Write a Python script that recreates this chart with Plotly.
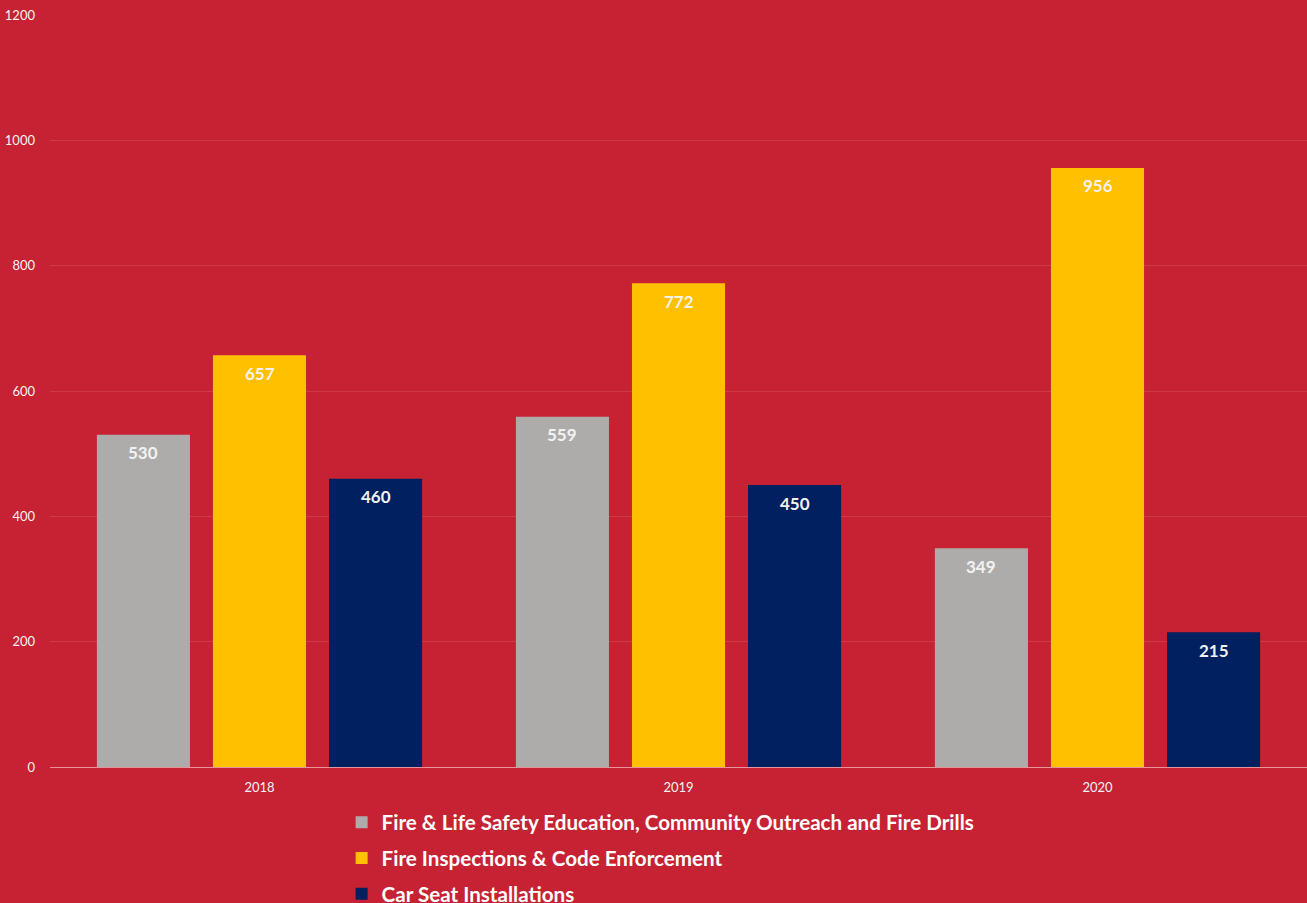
import plotly.graph_objects as go

years = ["2018", "2019", "2020"]
series_names = [
    "Fire & Life Safety Education, Community Outreach and Fire Drills",
    "Fire Inspections & Code Enforcement",
    "Car Seat Installations",
]
education = [530, 559, 349]
inspections = [657, 772, 956]
car_seats = [460, 450, 215]
colors = ["#AEACAB", "#FFC000", "#002060"]

BG = "#C62233"
BARGAP = 0.169
BARGROUPGAP = 0.198
PLOT_W = 1307 - 50
cat_px = PLOT_W / len(years)
slot_px = cat_px * (1 - BARGAP) / 3

fig = go.Figure()
for i, (name, vals, col) in enumerate(zip(series_names, [education, inspections, car_seats], colors)):
    fig.add_trace(go.Bar(
        x=years, y=vals, name=name, legendgroup=name,
        marker=dict(color=col, line=dict(width=0)),
    ))
    for j, v in enumerate(vals):
        fig.add_annotation(
            x=j, y=v, xref="x", yref="y", text=str(v), showarrow=False,
            xshift=(i - 1) * slot_px, yshift=-18, yanchor="middle",
            font=dict(family="Lato", size=17, color="#F2F2F2", weight="bold"),
        )

fig.update_layout(
    width=1307, height=903,
    paper_bgcolor=BG, plot_bgcolor=BG,
    margin=dict(l=50, r=0, t=15, b=136, autoexpand=False),
    barmode="group", bargap=BARGAP, bargroupgap=BARGROUPGAP,
    showlegend=True,
    legend=dict(
        orientation="v", x=0.232, xanchor="left", y=-0.047, yanchor="top",
        font=dict(family="Lato", size=20.6, color="#FFFFFF", weight="bold"),
        bgcolor="rgba(0,0,0,0)", tracegroupgap=6, traceorder="grouped",
        itemwidth=30,
    ),
    font=dict(family="Lato", color="#F2F2F2"),
)
fig.update_xaxes(
    type="category", range=[-0.5, 2.5],
    showgrid=False, showline=True, linecolor="#E6959B", linewidth=1,
    tickfont=dict(size=13, color="#F2F2F2"), ticks="", zeroline=False,
    ticklabelstandoff=8,
)
fig.update_yaxes(
    range=[0, 1200], dtick=200, showgrid=True, gridcolor="#CD3A46", gridwidth=1,
    zeroline=False, showline=False, ticks="",
    tickfont=dict(size=13, color="#F2F2F2"), ticklabelstandoff=14,
)

fig.write_html("out.html")
